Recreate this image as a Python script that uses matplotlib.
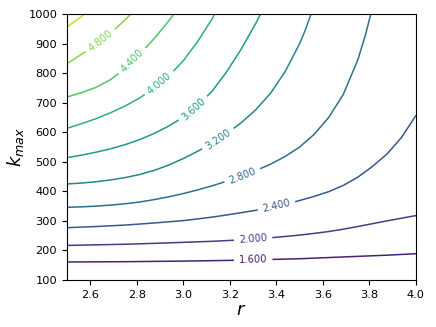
import matplotlib
matplotlib.use("Agg")
import matplotlib.pyplot as plt
import numpy as np
from matplotlib.contour import ContourSet

r_cols = [2.5, 2.5625, 2.625, 2.6875, 2.75, 2.8125, 2.875, 2.9375, 3.0, 3.0625, 3.125, 3.1875, 3.25,
          3.3125, 3.375, 3.4375, 3.5, 3.5625, 3.625, 3.6875, 3.75, 3.8125, 3.875, 3.9375, 4.0]

levels = [1.6, 2.0, 2.4, 2.8, 3.2, 3.6, 4.0, 4.4, 4.8, 5.2]

# k_max of every level line at r_cols (lines that leave through the top stop early)
k_160 = [161, 161.25, 161.5, 161.75, 162, 162.5, 163, 163.5, 164, 164.75, 165.5, 166.25, 167,
         168.25, 169.5, 170.75, 172, 174, 176, 178, 180, 182, 184, 186.5, 189]
k_200 = [217, 218, 219, 220, 221, 222.5, 224, 225.7, 227.5, 229.2, 231, 233.4, 236,
         239.4, 243, 247.3, 252, 257.7, 264, 272, 281, 290.5, 300, 309, 318]
k_240 = [277, 279, 281, 283.4, 286, 289.4, 293, 296.9, 301, 306.7, 313, 320.2, 328,
         336, 345, 356, 369, 383, 399, 420, 448, 484, 526, 582, 657]
k_280 = [346, 347.5, 350, 353.5, 358, 364, 372, 381.5, 392.5, 405, 419, 434.5, 451.5,
         470.5, 492, 518, 550, 593, 650, 728, 845]
k_320 = [425, 428, 432.5, 438.5, 446.5, 457, 471, 489, 511, 536, 564, 596, 633,
         677, 732, 805, 900]
k_360 = [514, 522.5, 532.5, 544, 558, 575, 596, 621, 651, 690, 740, 806, 883, 970]
k_400 = [613, 629, 646, 666, 689, 716, 749, 790, 842, 908, 985]
k_440 = [719, 734, 752, 778, 816, 864, 917, 977]
k_480 = [832, 864, 896, 935, 981]
k_520 = [956, 992]

# last (r, k_max) points of the lines that run out through the top edge
tail_280 = [(3.7813, 925), (3.806, 1000)]
tail_320 = [(3.5254, 948), (3.549, 1000)]
tail_360 = [(3.3315, 1000)]
tail_400 = [(3.134, 1000)]
tail_440 = [(2.96, 1000)]
tail_480 = [(2.775, 1000)]
tail_520 = [(2.574, 1000)]

# where the inline labels sit (r, kmax)
label_pos = [(3.30, 171), (3.30, 238), (3.40, 352), (3.25, 460), (3.15, 577),
             (3.04, 682), (2.90, 763), (2.786, 837), (2.648, 905)]

lines = [(k_160, []), (k_200, []), (k_240, []), (k_280, tail_280), (k_320, tail_320),
         (k_360, tail_360), (k_400, tail_400), (k_440, tail_440), (k_480, tail_480),
         (k_520, tail_520)]

allsegs = []
for k, tail in lines:
    pts = list(zip(r_cols[:len(k)], k)) + tail
    allsegs.append([np.array(pts, dtype=float)])

fig = plt.figure(figsize=(4.36, 3.27), dpi=100)
ax = fig.add_axes([0.1537, 0.1437, 0.8004, 0.8135])

cs = ContourSet(ax, levels, allsegs, cmap="viridis", vmin=1.2, vmax=5.6, linewidths=1.1)
ax.clabel(cs, levels=levels[:-1], fmt="%1.3f", fontsize=7.2, manual=label_pos)

ax.set_xlim(2.5, 4.0)
ax.set_ylim(100, 1000)
ax.set_xticks([2.6, 2.8, 3.0, 3.2, 3.4, 3.6, 3.8, 4.0])
ax.set_yticks(range(100, 1001, 100))
ax.tick_params(labelsize=8.2)
ax.set_xlabel("$r$", fontsize=13, labelpad=1)
ax.set_ylabel("$k_{max}$", fontsize=13, labelpad=2)

fig.savefig("out.png", dpi=100)
